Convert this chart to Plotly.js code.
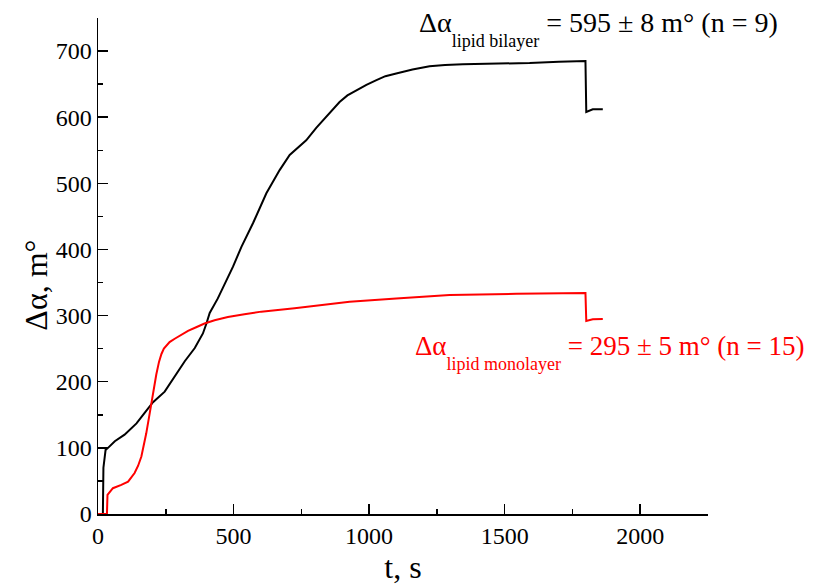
<!DOCTYPE html>
<html>
<head>
<meta charset="utf-8">
<script src="https://cdn.plot.ly/plotly-3.0.1.min.js"></script>
<style>
  html, body { margin: 0; padding: 0; background: #fff; }
  #chart { width: 814px; height: 588px; }
</style>
</head>
<body>
<div id="chart"></div>
<script>
// Lipid bilayer kinetics (time in s, Δα in m°)
const bilayerTime = [0, 18, 20, 28, 37, 62, 98, 142, 172, 203, 246, 283, 320, 357, 387, 400, 412, 442, 470, 498, 529, 572, 621, 670, 707, 740, 768, 805, 842, 891, 920, 953, 990, 1027, 1060, 1100, 1160, 1223, 1280, 1346, 1470, 1592, 1700, 1798, 1801, 1825, 1862];
const bilayerAlpha = [0, 0, 70, 97, 100, 110, 120, 137, 153, 169, 185, 208, 231, 251, 273, 288, 304, 326, 350, 374, 404, 440, 485, 520, 543, 555, 565, 584, 601, 623, 633, 641, 649, 656, 662, 666, 672, 677, 679, 680, 681, 682, 684, 685, 608, 612, 612];

// Lipid monolayer kinetics
const monoTime = [0, 33, 35, 55, 86, 111, 135, 148, 160, 170, 178, 191, 203, 215, 225, 234, 243, 252, 264, 283, 305, 332, 360, 393, 430, 479, 540, 602, 725, 830, 928, 1100, 1297, 1543, 1700, 1798, 1801, 1825, 1862];
const monoAlpha = [0, 0, 29, 39, 44, 49, 62, 73, 87, 104, 122, 153, 183, 211, 230, 242, 250, 255, 260, 265, 271, 277, 282, 288, 293, 298, 302, 306, 311, 316, 321, 326, 331, 333, 334, 334, 292, 294.5, 295];

// Axis ticks
const xTicks = [0, 500, 1000, 1500, 2000];
const yTicks = [0, 100, 200, 300, 400, 500, 600, 700];

const serif = 'Liberation Serif';
const subStyle = 'font-size:18px;baseline-shift:-9px';

const traces = [
  { x: bilayerTime, y: bilayerAlpha, mode: 'lines', line: { color: '#000000', width: 2 }, hoverinfo: 'skip' },
  { x: monoTime, y: monoAlpha, mode: 'lines', line: { color: '#ff0000', width: 2 }, hoverinfo: 'skip' }
];

function axisBase() {
  return {
    showgrid: false, zeroline: false, showline: true, linecolor: '#000', linewidth: 1.5,
    ticks: 'inside', ticklen: 10, tickwidth: 1.5, tickcolor: '#000',
    tickfont: { family: serif, size: 24, color: '#000' }
  };
}

const layout = {
  width: 814, height: 588,
  margin: { l: 98, r: 106, t: 18, b: 74 },
  paper_bgcolor: '#fff', plot_bgcolor: '#fff',
  font: { family: serif, color: '#000' },
  showlegend: false,
  xaxis: Object.assign(axisBase(), {
    range: [0, 2250], tickvals: xTicks, ticktext: xTicks.map(String),
    minor: { dtick: 250, ticks: 'inside', ticklen: 5, tickwidth: 1.5, tickcolor: '#000' },
    title: { text: 't, s', font: { family: serif, size: 32, color: '#000' }, standoff: 7 }
  }),
  yaxis: Object.assign(axisBase(), {
    range: [0, 750], tickvals: yTicks, ticktext: yTicks.map(String),
    minor: { dtick: 50, ticks: 'inside', ticklen: 5, tickwidth: 1.5, tickcolor: '#000' }
  }),
  annotations: [
    {
      // y-axis title, placed a little below the plot centre
      xref: 'paper', yref: 'paper', x: -0.102, y: 0.462, xanchor: 'center', yanchor: 'middle',
      text: 'Δα, m°', textangle: -90, showarrow: false,
      font: { family: serif, size: 32, color: '#000' }
    },
    {
      xref: 'paper', yref: 'paper', x: 1.118, y: 0.978, xanchor: 'right', yanchor: 'middle',
      text: 'Δα<sub><span style="' + subStyle + '">lipid bilayer</span></sub> = 595 ± 8 m° (n = 9)', showarrow: false,
      font: { family: serif, size: 28, color: '#000' }
    },
    {
      xref: 'paper', yref: 'paper', x: 1.162, y: 0.326, xanchor: 'right', yanchor: 'middle',
      text: 'Δα<sub><span style="' + subStyle + '">lipid monolayer</span></sub> = 295 ± 5 m° (n = 15)', showarrow: false,
      font: { family: serif, size: 27, color: '#ff0000' }
    }
  ]
};

Plotly.newPlot('chart', traces, layout, { staticPlot: true, displayModeBar: false });
</script>
</body>
</html>
